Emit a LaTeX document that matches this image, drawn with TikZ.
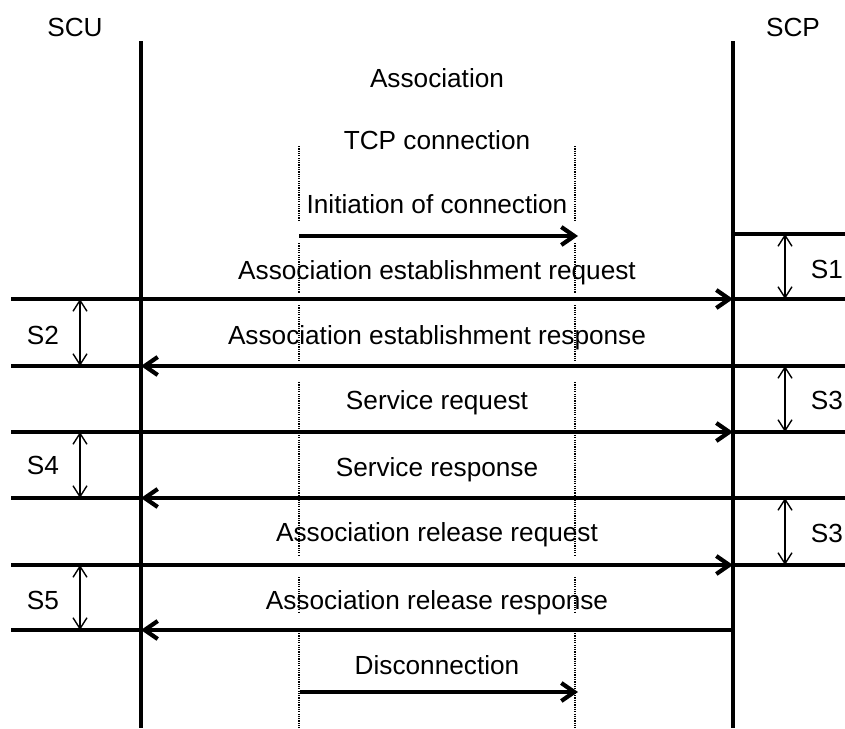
\documentclass[tikz,border=0pt]{standalone}
\usepackage{fontspec}
\setmainfont{Liberation Sans}
\usetikzlibrary{arrows.meta}
\begin{document}
\begin{tikzpicture}[x=1pt,y=-1pt,
  lifeline/.style={line width=4.5pt},
  msg/.style={line width=4pt,-{Straight Barb[length=13pt,width=18pt,line width=4.2pt]}},
  ext/.style={line width=3.6pt},
  gap/.style={line width=1.4pt,{Straight Barb[length=11pt,width=14pt,line width=1.4pt]}-{Straight Barb[length=11pt,width=14pt,line width=1.4pt]}},
  dots/.style={line width=1.3pt,dash pattern=on 1.2pt off 1.1pt},
  lbl/.style={font=\fontsize{26.2}{30}\selectfont,anchor=base,inner sep=0pt}]
\useasboundingbox (0,0) rectangle (845,728);
% lifelines
\coordinate (Ltop) at (141,41); \coordinate (Lbot) at (141,728);
\coordinate (Rtop) at (733,41); \coordinate (Rbot) at (733,728);
\draw[lifeline] (Ltop) -- (Lbot);
\draw[lifeline] (Rtop) -- (Rbot);
\node[lbl] (scu) at (75,36) {SCU};
\node[lbl] (scp) at (793,36) {SCP};
\node[lbl] (assoc) at (437,87) {Association};
\node[lbl] (tcp) at (437,149) {TCP connection};
\node[lbl] (init) at (437,213) {Initiation of connection};
% dotted TCP guides
\foreach \k/\a/\b in {1/146/220,2/243/293,3/305/362,4/382/555,5/577/612,6/633/728}{
  \coordinate (dla\k) at (299,\a); \coordinate (dlb\k) at (299,\b);
  \coordinate (dra\k) at (575,\a); \coordinate (drb\k) at (575,\b);
  \draw[dots] (dla\k) -- (dlb\k);
  \draw[dots] (dra\k) -- (drb\k);
}
% TCP arrows
\coordinate (ia) at (299,236); \coordinate (ib) at (578,236);
\draw[msg] (ia) -- (ib);
\coordinate (da) at (300,692); \coordinate (db) at (578,692);
\draw[msg] (da) -- (db);
\node[lbl] (disc) at (437,674) {Disconnection};
% message rows
\foreach \n/\y in {1/299,2/366,3/432,4/498,5/565,6/630}{
  \coordinate (L\n) at (141,\y); \coordinate (R\n) at (733,\y);
  \coordinate (W\n) at (11,\y); \coordinate (E\n) at (845,\y);
}
\draw[msg] (L1) -- (R1);
\draw[msg] (R2) -- (L2);
\draw[msg] (L3) -- (R3);
\draw[msg] (R4) -- (L4);
\draw[msg] (L5) -- (R5);
\draw[msg] (R6) -- (L6);
\foreach \n in {1,...,6}{ \draw[ext] (W\n) -- (L\n); }
\foreach \n in {1,...,5}{ \draw[ext] (R\n) -- (E\n); }
\coordinate (S1a) at (733,234); \coordinate (S1b) at (845,234);
\draw[ext] (S1a) -- (S1b);
\node[lbl] (m1) at (437,279) {Association establishment request};
\node[lbl] (m2) at (437,344) {Association establishment response};
\node[lbl] (m3) at (437,409) {Service request};
\node[lbl] (m4) at (437,476) {Service response};
\node[lbl] (m5) at (437,541) {Association release request};
\node[lbl] (m6) at (437,609) {Association release response};
% interval markers
\coordinate (g1a) at (785,234); \coordinate (g1b) at (785,299);
\coordinate (g2a) at (80,299);  \coordinate (g2b) at (80,366);
\coordinate (g3a) at (785,366); \coordinate (g3b) at (785,432);
\coordinate (g4a) at (80,432);  \coordinate (g4b) at (80,498);
\coordinate (g5a) at (785,498); \coordinate (g5b) at (785,565);
\coordinate (g6a) at (80,565);  \coordinate (g6b) at (80,630);
\foreach \k in {1,...,6}{ \draw[gap] (g\k a) -- (g\k b); }
\node[lbl] (t1) at (827,278) {S1};
\node[lbl] (t2) at (43,344) {S2};
\node[lbl] (t3) at (827,409) {S3};
\node[lbl] (t4) at (43,474) {S4};
\node[lbl] (t5) at (827,542) {S3};
\node[lbl] (t6) at (43,609) {S5};
\end{tikzpicture}
\end{document}
